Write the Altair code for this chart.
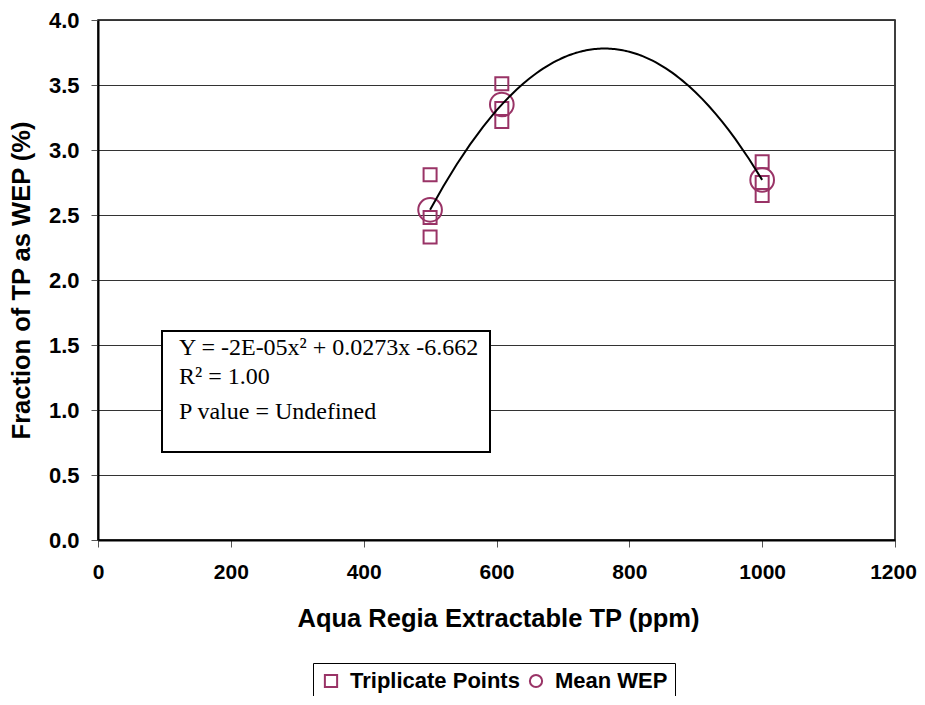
import altair as alt
import pandas as pd

# ---- data ----
trip_x = [500, 500, 500, 608, 608, 608, 1000, 1000, 1000]
trip_y = [2.81, 2.48, 2.33, 3.51, 3.32, 3.22, 2.91, 2.75, 2.65]
mean_x = [500, 608, 1000]
mean_y = [2.54, 3.35, 2.77]
series_names = ["Triplicate Points", "Mean WEP"]
x_ticks = [0, 200, 400, 600, 800, 1000, 1200]
y_ticks = [0.0, 0.5, 1.0, 1.5, 2.0, 2.5, 3.0, 3.5, 4.0]
annotation_lines = ["Y = -2E-05x\u00b2 + 0.0273x -6.662", "R\u00b2 = 1.00", "P value = Undefined"]

PLUM = "#993366"
SANS = "Liberation Sans"
SERIF = "Liberation Serif"

trip = pd.DataFrame({"x": trip_x, "y": trip_y, "series": series_names[0]})
mean = pd.DataFrame({"x": mean_x, "y": mean_y, "series": series_names[1]})

xscale = alt.Scale(domain=[0, 1200], nice=False, zero=True)
yscale = alt.Scale(domain=[0, 4], nice=False)

xaxis = alt.Axis(title="Aqua Regia Extractable TP (ppm)", values=x_ticks, format="d",
                 grid=False, labelPadding=14, labelFlush=False, labelOverlap=False,
                 labelFontSize=21,
                 labelOffset={"condition": {"test": "datum.value == 1200", "value": -2},
                              "value": 0},
                 titleX=400, titleY=86, titleBaseline="alphabetic", titleAlign="center")
yaxis = alt.Axis(title="Fraction of TP as WEP (%)", values=y_ticks, format=".1f",
                 grid=True, labelPadding=12, labelFlush=False, labelOverlap=False,
                 labelFontSize=22,
                 titleX=-69, titleY=260, titleBaseline="alphabetic",
                 titleAlign="center", titleAngle=-90)

X = alt.X("x:Q", scale=xscale, axis=xaxis)
Y = alt.Y("y:Q", scale=yscale, axis=yaxis)

shape_scale = alt.Scale(domain=series_names, range=["square", "circle"])
legend = alt.Legend(title=None, orient="none", legendX=215, legendY=643,
                    direction="horizontal", labelLimit=600)
S = alt.Shape("series:N", scale=shape_scale, legend=legend)

curve = alt.Chart(mean).transform_regression(
    "x", "y", method="poly", order=2
).mark_line(color="black", strokeWidth=2).encode(x=X, y=Y)

tri = alt.Chart(trip).mark_point(filled=False, color=PLUM, strokeWidth=2, size=169,
                                 opacity=1).encode(x=X, y=Y, shape=S)
mn = alt.Chart(mean).mark_point(filled=False, color=PLUM, strokeWidth=2, size=560,
                                opacity=1).encode(x=X, y=Y, shape=S)

box = alt.Chart(pd.DataFrame({"a": [0]})).mark_rect(
    fill="white", stroke="black", strokeWidth=2
).encode(x=alt.value(64), x2=alt.value(392), y=alt.value(311), y2=alt.value(432))

line_y = [335, 364, 399]
texts = []
for line, yy in zip(annotation_lines, line_y):
    texts.append(
        alt.Chart(pd.DataFrame({"t": [line]})).mark_text(
            align="left", baseline="alphabetic", font=SERIF, fontSize=24, color="black"
        ).encode(x=alt.value(81), y=alt.value(yy), text="t:N")
    )

chart = alt.layer(tri, mn, curve, box, *texts).properties(
    width=797, height=520,
    autosize=alt.AutoSizeParams(type="none"),
    padding={"left": 90, "top": 12, "right": 22, "bottom": 156},
).configure_view(
    stroke="black", strokeWidth=1.5
).configure_axis(
    domainColor="black", domainWidth=2, tickColor="#555", tickSize=7, tickWidth=1,
    labelFont=SANS, labelFontWeight="bold", labelColor="black",
    titleFont=SANS, titleFontWeight="bold", titleFontSize=25.5, titleColor="black",
    gridColor="#333", gridWidth=1,
).configure_legend(
    strokeColor="black", fillColor="white", padding=7,
    labelFont=SANS, labelFontWeight="bold", labelFontSize=22, labelColor="black",
    symbolStrokeColor=PLUM, symbolFillColor="white", symbolStrokeWidth=2,
    symbolSize=150, labelOffset=8, columnPadding=5, labelLimit=600,
)

chart.save("out.html", embed_options={"renderer": "svg", "actions": False})
